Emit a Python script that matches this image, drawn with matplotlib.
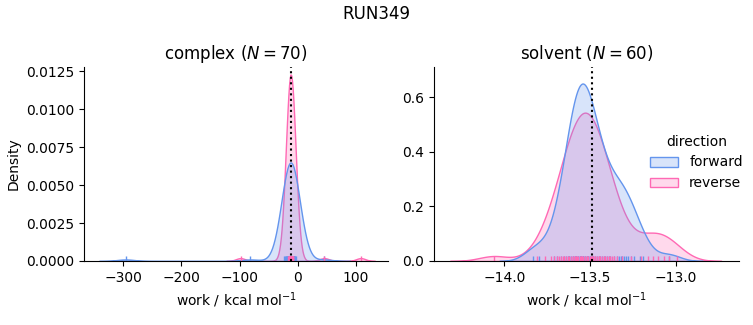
import pandas as pd
import seaborn as sns
import matplotlib.pyplot as plt

# work values (kcal/mol)
complex_forward = [
    -295.4, -81.2, 44.8, -24.1, -21.4, -20.2, -19.5, -18.6, -18.0, -17.4,
    -17.0, -16.5, -16.1, -15.8, -15.5, -15.2, -14.9, -14.7, -14.4, -14.2,
    -14.0, -13.8, -13.6, -13.5, -13.3, -13.1, -13.0, -12.8, -12.7, -12.5,
    -12.4, -12.2, -12.1, -11.9, -11.8, -11.6, -11.5, -11.3, -11.2, -11.0,
    -10.9, -10.7, -10.5, -10.4, -10.2, -10.0, -9.8, -9.6, -9.4, -9.2,
    -9.0, -8.7, -8.5, -8.2, -7.9, -7.6, -7.2, -6.8, -6.3, -5.7,
    -5.0, -4.1, -2.5, -15.9, -13.9, -12.0, -10.6, -14.3, -11.7, -8.9,
]
complex_reverse = [
    -98.3, 45.6, 108.2, -16.9, -15.8, -15.2, -14.8, -14.5, -14.2, -14.0,
    -13.8, -13.6, -13.5, -13.4, -13.3, -13.2, -13.1, -13.0, -12.9, -12.8,
    -12.8, -12.7, -12.6, -12.6, -12.5, -12.4, -12.4, -12.3, -12.3, -12.2,
    -12.2, -12.1, -12.1, -12.0, -12.0, -11.9, -11.9, -11.8, -11.8, -11.7,
    -11.7, -11.6, -11.5, -11.5, -11.4, -11.3, -11.2, -11.1, -11.0, -10.9,
    -10.8, -10.7, -10.5, -10.4, -10.2, -10.0, -9.8, -9.5, -9.2, -8.8,
    -8.3, -7.6, -12.5, -13.7, -12.0, -11.2, -12.9, -10.6, -12.2, -11.6,
]
solvent_forward = [
    -13.71, -13.69, -13.67, -13.65, -13.64, -13.63, -13.62, -13.62, -13.61, -13.60,
    -13.60, -13.59, -13.59, -13.58, -13.58, -13.57, -13.57, -13.56, -13.56, -13.55,
    -13.55, -13.54, -13.54, -13.54, -13.53, -13.53, -13.52, -13.52, -13.51, -13.51,
    -13.50, -13.50, -13.49, -13.48, -13.48, -13.47, -13.46, -13.45, -13.44, -13.43,
    -13.42, -13.41, -13.40, -13.39, -13.38, -13.36, -13.34, -13.33, -13.32, -13.31,
    -13.30, -13.29, -13.28, -13.26, -13.24, -13.21, -13.83, -13.80, -13.19, -13.04,
]
solvent_reverse = [
    -13.81, -13.76, -13.73, -13.71, -13.69, -13.68, -13.67, -13.66, -13.65, -13.64,
    -13.63, -13.62, -13.61, -13.60, -13.60, -13.59, -13.59, -13.58, -13.575, -13.57,
    -13.56, -13.555, -13.55, -13.545, -13.54, -13.53, -13.53, -13.52, -13.515, -13.51,
    -13.50, -13.495, -13.49, -13.485, -13.48, -13.47, -13.47, -13.46, -13.45, -13.45,
    -13.44, -13.43, -13.42, -13.41, -13.40, -13.39, -13.38, -13.37, -13.36, -13.34,
    -13.31, -13.26, -13.20, -13.16, -13.13, -13.10, -13.07, -13.04, -12.99, -14.06,
]
# free energy estimates (dotted lines)
estimate = {"complex": -12.1, "solvent": -13.49}
n_cycles = {"complex": 70, "solvent": 60}

rows = []
for phase, fwd, rev in [("complex", complex_forward, complex_reverse),
                        ("solvent", solvent_forward, solvent_reverse)]:
    rows += [(phase, "forward", w) for w in fwd]
    rows += [(phase, "reverse", w) for w in rev]
df = pd.DataFrame(rows, columns=["phase", "direction", "work"])

g = sns.displot(
    df, x="work", hue="direction", col="phase", kind="kde",
    fill=True, rug=True, common_norm=True,
    hue_order=["forward", "reverse"], col_order=["complex", "solvent"],
    palette=["cornflowerblue", "hotpink"],
    facet_kws=dict(sharex=False, sharey=False),
)
fig = g.figure
fig.set_size_inches(7.53, 3.25)

ax1, ax2 = g.axes.flat
ax1.set_position([0.1116, 0.197, 0.4037, 0.597])
ax2.set_position([0.5764, 0.197, 0.405, 0.597])

for ax, phase in [(ax1, "complex"), (ax2, "solvent")]:
    ax.axvline(estimate[phase], color="k", ls=":", lw=1.5)
    ax.set_title(f"{phase} ($N = {n_cycles[phase]}$)", fontsize=12)
    ax.set_xlabel("work / kcal mol$^{-1}$")

ax1.set_xlim(-367, 155)
ax1.set_ylim(0, 0.0128)
ax1.set_yticks([0, 0.0025, 0.005, 0.0075, 0.01, 0.0125])
ax1.set_ylabel("Density")
ax2.set_xlim(-14.41, -12.63)
ax2.set_ylim(0, 0.71)
ax2.set_ylabel("")

fig.suptitle("RUN349", y=0.985, fontsize=12)
sns.move_legend(g, "center left", bbox_to_anchor=(0.847, 0.5), frameon=False)

fig.savefig("out.png", dpi=100)
